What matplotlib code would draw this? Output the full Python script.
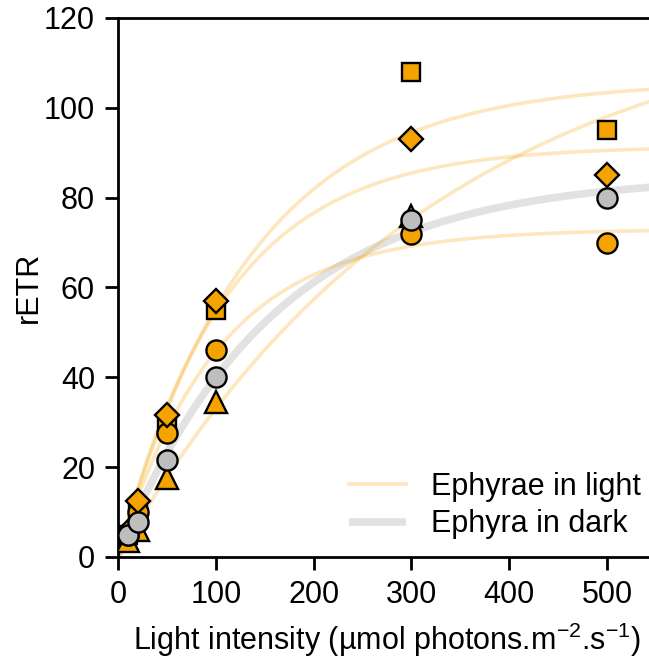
import numpy as np
import matplotlib
matplotlib.use("Agg")
import matplotlib.pyplot as plt

plt.rcParams['font.family'] = ['Liberation Sans', 'DejaVu Sans']

# Light intensities
light = [10, 20, 50, 100, 300, 500]
light_tri = [10, 20, 50, 100, 300]

# Ephyrae in light (orange), per individual
sq_vals = [5, 10.5, 29, 55, 108, 95]
dia_vals = [5.5, 12.5, 31.5, 57, 93, 85]
circ_vals = [5, 10, 27.5, 46, 72, 70]
tri_vals = [3.5, 6, 17.5, 34.5, 76]
# Ephyra in dark (grey)
dark_vals = [4.8, 7.8, 21.5, 40, 75, 80]

# Fitted curve parameters (Pmax, alpha) for P = Pmax*(1-exp(-alpha*I/Pmax))
light_fits_pmax = [106, 91.5, 73, 125]
light_fits_alpha = [0.785, 0.83, 0.72, 0.3835]
dark_fit_pmax = 85
dark_fit_alpha = 0.54

orange = '#F5A300'
grey = '#BEBEBE'
FS = 22

fig = plt.figure(figsize=(6.49, 6.66), dpi=100)
ax = fig.add_axes([0.1818, 0.1637, 0.829, 0.8093])

I = np.linspace(0, 560, 400)
ax.plot(I, dark_fit_pmax * (1 - np.exp(-dark_fit_alpha * I / dark_fit_pmax)),
        color='#E2E2E2', lw=5.5, solid_capstyle='butt', zorder=1, label='Ephyra in dark')
for k, (pm, a) in enumerate(zip(light_fits_pmax, light_fits_alpha)):
    ax.plot(I, pm * (1 - np.exp(-a * I / pm)), color=orange, alpha=0.25, lw=2.6,
            zorder=2, label='Ephyrae in light' if k == 0 else None)

mk = dict(mec='black', mew=1.7, ls='none', zorder=3)
ax.plot(light_tri, tri_vals, marker='^', ms=16, mfc=orange, **mk)
ax.plot(light, sq_vals, marker='s', ms=12.5, mfc=orange, **mk)
ax.plot(light, circ_vals, marker='o', ms=14.5, mfc=orange, **mk)
ax.plot(light, dia_vals, marker='D', ms=12.5, mfc=orange, **mk)
ax.plot(light, dark_vals, marker='o', ms=14.5, mfc=grey, **mk)

ax.set_xlim(0, 550)
ax.set_ylim(0, 120)
ax.set_xticks([0, 100, 200, 300, 400, 500])
ax.set_yticks([0, 20, 40, 60, 80, 100, 120])
for s in ax.spines.values():
    s.set_linewidth(2)
ax.tick_params(direction='out', length=9.5, width=2, labelsize=FS, pad=7)

ax.set_xlabel('Light intensity (µmol photons.m$^{\\mathregular{-2}}$.s$^{\\mathregular{-1}}$)',
              fontsize=FS, labelpad=8)
ax.set_ylabel('rETR', fontsize=FS, labelpad=0)

handles, labels = ax.get_legend_handles_labels()
order = [labels.index('Ephyrae in light'), labels.index('Ephyra in dark')]
leg = ax.legend([handles[i] for i in order], [labels[i] for i in order],
                loc='lower right', bbox_to_anchor=(1.012, -0.007), frameon=False,
                fontsize=FS, handlelength=1.86, handletextpad=0.82, labelspacing=0.25,
                borderpad=0.2)

fig.savefig('out.png', dpi=100)
